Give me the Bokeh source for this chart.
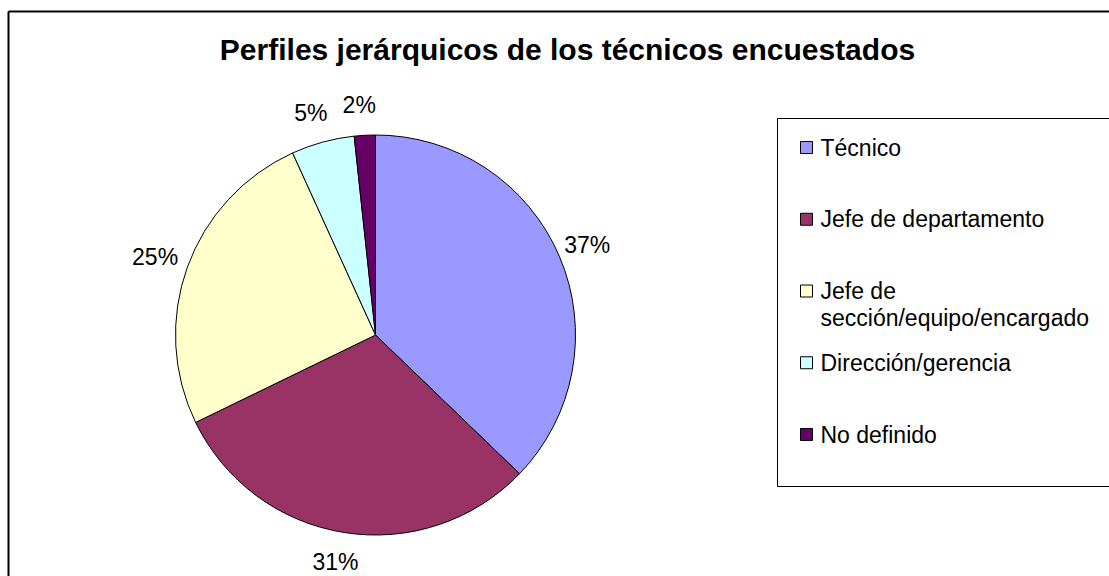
import math
from bokeh.plotting import figure
from bokeh.models import Range1d
from bokeh.embed import file_html
from bokeh.resources import INLINE
from bokeh.core.properties import value

# ---- data ----
categories = ["Técnico", "Jefe de departamento", "Jefe de\nsección/equipo/encargado",
              "Dirección/gerencia", "No definido"]
percentages = [37.2, 30.6, 25.4, 5.1, 1.7]   # read from slice boundaries
colors = ["#9999FF", "#993366", "#FFFFCC", "#CCFFFF", "#660066"]
title_text = "Perfiles jerárquicos de los técnicos encuestados"

# ---- layout helpers (screen px -> data coords, 1:1) ----
W, H = 1109, 576
def X(sx):
    return sx
def Y(sy):
    return H - sy

FONT = value("Liberation Sans")

p = figure(width=W, height=H, x_range=Range1d(0, W), y_range=Range1d(0, H),
           output_backend="svg", toolbar_location=None, min_border=0,
           x_axis_location=None, y_axis_location=None)
p.grid.visible = False
p.outline_line_color = None
p.background_fill_color = "white"
p.border_fill_color = "white"

# chart border (left and top visible)
p.segment(x0=[X(8), X(8)], y0=[Y(580), Y(11)], x1=[X(8), X(1120)], y1=[Y(11), Y(11)],
          line_color="black", line_width=2)

# title
p.text(x=[X(567)], y=[Y(49)], text=[title_text], text_font=FONT,
       text_font_size="30px", text_font_style="bold", text_align="center",
       text_baseline="middle", text_color="black")

# pie
cx, cy, R = X(375), Y(334.5), 200
total = sum(percentages)
starts, ends, mids = [], [], []
cum = 0
for v in percentages:
    a0 = math.pi / 2 - 2 * math.pi * cum / total
    cum += v
    a1 = math.pi / 2 - 2 * math.pi * cum / total
    starts.append(a0)
    ends.append(a1)
    mids.append((a0 + a1) / 2)

p.wedge(x=[cx] * len(percentages), y=[cy] * len(percentages), radius=R,
        start_angle=starts, end_angle=ends, direction="clock",
        fill_color=colors, line_color="black", line_width=1)

# data labels (placed outside the pie along each slice's mid angle)
LR = 230
lx = [cx + LR * math.cos(a) - 4 * (math.cos(a) < 0) for a in mids]
ly = [cy + LR * math.sin(a) for a in mids]
p.text(x=lx, y=ly, text=[f"{round(v)}%" for v in percentages], text_font=FONT,
       text_font_size="23px", text_align="center", text_baseline="middle",
       text_color="black")

# legend box
p.quad(left=X(777), right=X(1140), top=Y(118), bottom=Y(486),
       fill_color=None, line_color="black", line_width=1)

# legend entries
row0, step, lh = 147, 71.75, 26.5
sq_x, sq_y = [], []
t_x, t_y, t_text = [], [], []
for i, name in enumerate(categories):
    c = row0 + i * step
    lines = name.split("\n")
    sq_x.append(X(806))
    sq_y.append(Y(c))
    for j, ln in enumerate(lines):
        t_x.append(X(820))
        t_y.append(Y(c + j * lh))
        t_text.append(ln)

p.rect(x=sq_x, y=sq_y, width=12, height=12, width_units="screen",
       height_units="screen", fill_color=colors, line_color="black", line_width=1)
p.text(x=t_x, y=t_y, text=t_text, text_font=FONT, text_font_size="23px",
       text_align="left", text_baseline="middle", text_color="black")

open("out.html", "w").write(file_html(p, INLINE))
